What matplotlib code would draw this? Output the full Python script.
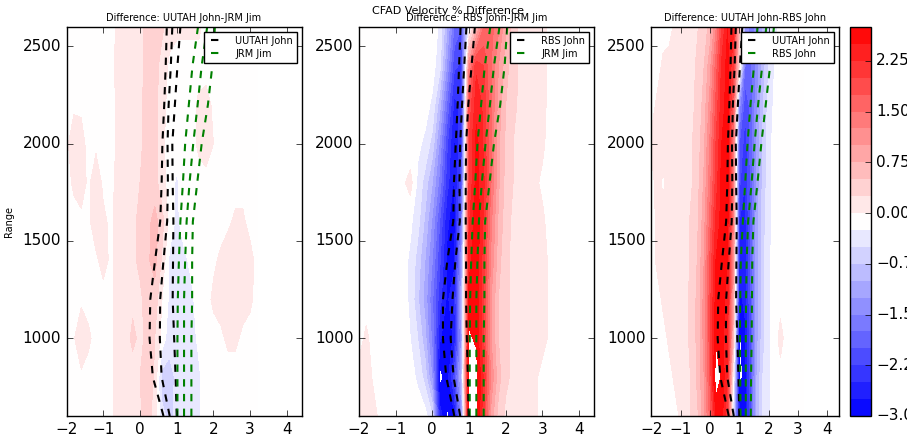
import matplotlib
matplotlib.use('Agg')
import matplotlib.pyplot as plt
import numpy as np

plt.style.use('classic')
plt.rcParams['figure.facecolor'] = 'white'
plt.rcParams['savefig.facecolor'] = 'white'

# range gates (m) and velocity bins used for the CFADs
heights = [600, 800, 1000, 1200, 1400, 1600, 1800, 2000, 2200, 2400, 2600]
vel_bins = [-2.0, -1.8, -1.6, -1.4, -1.2, -1.0, -0.8, -0.6, -0.4, -0.2, 0.0, 0.2, 0.4, 0.6,
            0.8, 1.0, 1.2, 1.4, 1.6, 1.8, 2.0, 2.2, 2.4, 2.6, 2.8, 3.0, 3.2]

# CFAD % differences, one row per height
diff_uutah_jrm = [
    [-0.1, -0.1, -0.1, -0.1, -0.1, -0.1, -0.05, 0.1, 0.15, 0.15, 0.2, 0.4, 0.1, -0.45, -0.55, -0.45, -0.4, -0.35, -0.3, -0.1, -0.1, -0.1, -0.1, -0.1, -0.1, -0.1, -0.1],
    [-0.1, -0.1, -0.05, -0.1, -0.1, -0.1, -0.05, 0.1, 0.15, 0.15, 0.25, 0.5, 0.2, -0.6, -0.6, -0.45, -0.4, -0.35, -0.3, -0.1, -0.1, -0.1, -0.1, -0.1, -0.1, -0.1, -0.1],
    [-0.1, -0.02, 0.2, 0.05, -0.1, -0.1, -0.05, 0.1, 0.15, 0.3, 0.2, 0.3, 0.25, -0.1, -0.4, -0.45, -0.5, -0.35, -0.2, -0.1, -0.1, -0.05, 0.05, 0.05, -0.05, -0.1, -0.1],
    [-0.1, -0.1, -0.05, -0.1, -0.1, -0.1, -0.05, 0.1, 0.15, 0.2, 0.2, 0.35, 0.4, 0.0, -0.3, -0.4, -0.35, -0.3, -0.15, -0.1, 0.05, 0.1, 0.1, 0.1, 0.1, 0.05, -0.1],
    [-0.1, -0.1, -0.1, -0.1, -0.05, 0.1, -0.05, 0.1, 0.15, 0.2, 0.3, 0.45, 0.6, 0.2, -0.3, -0.35, -0.3, -0.2, -0.1, -0.1, -0.05, 0.05, 0.15, 0.15, 0.15, 0.1, -0.1],
    [-0.1, -0.1, -0.05, -0.05, 0.15, 0.05, -0.05, 0.1, 0.15, 0.2, 0.3, 0.4, 0.6, 0.35, -0.1, -0.3, -0.15, -0.1, -0.1, -0.1, -0.1, -0.1, -0.05, 0.05, 0.05, -0.1, -0.1],
    [-0.1, 0.05, 0.1, -0.05, 0.15, -0.05, -0.1, 0.1, 0.15, 0.15, 0.25, 0.35, 0.35, 0.1, -0.1, -0.3, -0.1, -0.1, -0.1, -0.1, -0.1, -0.1, -0.1, -0.1, -0.1, -0.1, -0.1],
    [-0.05, 0.15, 0.1, -0.1, -0.05, -0.1, -0.1, 0.05, 0.15, 0.15, 0.2, 0.35, 0.35, 0.05, -0.1, -0.1, -0.1, -0.1, 0.05, 0.15, 0.0, -0.1, -0.1, -0.1, -0.1, -0.1, -0.1],
    [-0.1, -0.05, -0.05, -0.1, -0.1, -0.1, -0.1, 0.05, 0.15, 0.15, 0.2, 0.35, 0.35, 0.1, -0.1, -0.1, -0.1, -0.1, 0.05, 0.1, -0.05, -0.1, -0.1, -0.1, -0.1, -0.1, -0.1],
    [-0.1, -0.1, -0.1, -0.1, -0.1, -0.1, -0.1, 0.1, 0.15, 0.15, 0.2, 0.3, 0.35, 0.15, -0.05, -0.1, -0.1, -0.1, -0.1, -0.1, -0.1, -0.1, -0.1, -0.1, -0.1, -0.1, -0.1],
    [-0.1, -0.1, -0.1, -0.1, -0.1, -0.1, -0.1, 0.05, 0.15, 0.15, 0.2, 0.3, 0.35, 0.3, 0.1, 0.05, 0.05, 0.05, 0.05, -0.1, -0.1, -0.1, -0.1, -0.1, -0.1, -0.1, -0.1],
]

diff_rbs_jrm = [
    [0.15, 0.2, 0.1, -0.1, -0.1, -0.1, -0.1, -0.1, -0.1, -0.15, -0.5, -2.6, -3.05, -2.8, -1.4, 2.95, 2.9, 2.0, 0.9, 0.4, 0.2, 0.15, 0.15, 0.15, 0.05, -0.1, -0.1],
    [0.1, 0.15, -0.05, -0.1, -0.1, -0.1, -0.1, -0.15, -0.3, -0.6, -1.3, -3.1, -2.9, -2.2, -0.9, 3.0, 2.9, 2.2, 1.2, 0.6, 0.3, 0.2, 0.15, 0.15, 0.05, -0.1, -0.1],
    [-0.1, 0.05, -0.1, -0.1, -0.1, -0.1, -0.15, -0.25, -0.5, -0.9, -1.6, -2.7, -2.95, -2.7, -1.2, 2.8, 2.7, 2.0, 1.0, 0.5, 0.3, 0.2, 0.15, 0.15, 0.15, 0.1, -0.05],
    [-0.1, -0.1, -0.1, -0.1, -0.1, -0.1, -0.15, -0.3, -0.7, -1.1, -1.7, -2.4, -2.8, -2.6, -1.0, 2.6, 2.7, 2.0, 1.0, 0.5, 0.3, 0.2, 0.15, 0.15, 0.15, 0.1, -0.05],
    [-0.1, -0.1, -0.1, -0.1, -0.1, -0.1, -0.15, -0.3, -0.6, -1.0, -1.5, -2.2, -2.8, -2.8, -1.3, 2.4, 2.7, 2.1, 1.2, 0.6, 0.3, 0.2, 0.15, 0.15, 0.1, 0.1, -0.05],
    [-0.1, -0.1, -0.1, -0.1, -0.1, -0.1, -0.1, -0.2, -0.4, -0.8, -1.3, -2.0, -2.7, -2.9, -1.6, 2.2, 2.7, 2.2, 1.3, 0.7, 0.35, 0.2, 0.15, 0.15, 0.1, 0.05, -0.1],
    [-0.1, -0.1, -0.1, -0.1, -0.1, -0.1, -0.05, 0.1, -0.3, -0.6, -1.0, -1.6, -2.4, -2.8, -2.0, 2.0, 2.6, 2.3, 1.5, 0.8, 0.4, 0.25, 0.15, 0.1, 0.05, -0.05, -0.1],
    [-0.1, -0.1, -0.1, -0.1, -0.1, -0.1, -0.1, -0.2, -0.2, -0.3, -0.6, -1.3, -2.2, -2.8, -2.3, 2.0, 2.6, 2.2, 1.5, 0.8, 0.45, 0.25, 0.2, 0.15, 0.1, 0.05, -0.1],
    [-0.1, -0.1, -0.1, -0.1, -0.1, -0.1, -0.1, -0.1, -0.1, -0.15, -0.3, -0.9, -1.8, -2.6, -2.4, 1.8, 2.4, 2.2, 1.5, 0.9, 0.5, 0.3, 0.2, 0.15, 0.1, 0.1, -0.1],
    [-0.1, -0.1, -0.1, -0.1, -0.1, -0.1, -0.1, -0.1, -0.1, -0.1, -0.15, -0.4, -1.3, -2.2, -2.3, 1.2, 2.2, 2.0, 1.5, 1.0, 0.6, 0.35, 0.2, 0.15, 0.15, 0.1, -0.1],
    [-0.1, -0.1, -0.1, -0.1, -0.1, -0.1, -0.1, -0.1, -0.1, -0.1, -0.1, -0.3, -1.0, -1.8, -2.0, -0.2, 0.6, 1.5, 1.6, 1.3, 0.8, 0.35, 0.2, 0.15, 0.15, 0.1, -0.1],
]

diff_uutah_rbs = [
    [-0.1, -0.1, -0.1, -0.1, -0.1, 0.05, 0.15, 0.3, 0.5, 0.9, 1.6, 2.5, 2.6, 2.0, -0.6, -2.8, -2.9, -2.0, -1.0, -0.5, -0.3, -0.15, -0.1, -0.1, -0.1, -0.1, -0.1],
    [-0.1, -0.1, -0.1, -0.1, 0.05, 0.1, 0.15, 0.3, 0.6, 1.0, 1.8, 3.0, 2.7, 2.2, -0.2, -3.1, -2.9, -2.0, -1.0, -0.5, -0.3, -0.15, -0.1, -0.1, -0.1, -0.1, -0.1],
    [-0.1, -0.1, -0.1, 0.05, 0.1, 0.15, 0.2, 0.35, 0.6, 1.1, 1.9, 2.7, 2.6, 2.3, 0.5, -3.1, -2.8, -2.0, -1.1, -0.6, -0.3, -0.15, 0.1, -0.1, -0.1, -0.1, -0.1],
    [-0.1, -0.1, 0.05, 0.1, 0.15, 0.15, 0.2, 0.35, 0.6, 1.1, 1.9, 2.6, 2.6, 2.4, 0.8, -2.8, -2.7, -2.0, -1.1, -0.6, -0.3, -0.15, -0.1, -0.1, -0.1, -0.1, -0.1],
    [-0.1, 0.05, 0.1, 0.1, 0.15, 0.15, 0.2, 0.3, 0.55, 1.0, 1.8, 2.5, 2.6, 2.5, 1.0, -2.7, -2.6, -1.9, -1.1, -0.6, -0.3, -0.15, -0.1, -0.1, -0.1, -0.1, -0.1],
    [-0.1, 0.05, 0.1, 0.15, 0.15, 0.15, 0.2, 0.3, 0.5, 0.9, 1.6, 2.3, 2.6, 2.6, 1.2, -2.5, -2.6, -1.9, -1.1, -0.6, -0.35, -0.15, -0.1, -0.1, -0.1, -0.1, -0.1],
    [-0.1, 0.1, -0.05, 0.1, 0.15, 0.15, 0.15, 0.25, 0.45, 0.8, 1.4, 2.1, 2.6, 2.6, 1.3, -2.2, -2.5, -1.9, -1.2, -0.7, -0.35, -0.15, -0.1, -0.1, -0.1, -0.1, -0.1],
    [0.05, 0.1, 0.15, 0.15, 0.15, 0.15, 0.15, 0.25, 0.4, 0.7, 1.3, 2.0, 2.5, 2.6, 1.3, -2.0, -2.4, -1.9, -1.2, -0.7, -0.35, -0.15, -0.1, -0.1, -0.1, -0.1, -0.1],
    [-0.1, 0.05, 0.1, 0.15, 0.15, 0.15, 0.15, 0.2, 0.35, 0.6, 1.1, 1.8, 2.4, 2.6, 1.6, -1.4, -2.2, -1.9, -1.3, -0.8, -0.4, -0.2, -0.1, -0.1, -0.1, -0.1, -0.1],
    [-0.1, -0.1, 0.05, 0.1, 0.1, 0.15, 0.15, 0.2, 0.3, 0.5, 0.9, 1.6, 2.3, 2.6, 2.0, 0.2, -1.8, -1.8, -1.4, -0.9, -0.5, -0.25, -0.1, -0.1, -0.1, -0.1, -0.1],
    [-0.1, -0.1, -0.1, -0.1, 0.05, 0.1, 0.1, 0.15, 0.25, 0.35, 0.6, 1.2, 2.0, 2.5, 2.3, 0.5, -1.3, -1.6, -1.4, -1.0, -0.6, -0.3, -0.2, -0.1, -0.1, -0.1, -0.1],
]

# velocity percentiles (three lines per radar) at each height
uutah_john = [
    [0.64, 0.35, 0.26, 0.28, 0.41, 0.55, 0.59, 0.61, 0.66, 0.70, 0.73],
    [0.81, 0.59, 0.54, 0.55, 0.64, 0.74, 0.76, 0.75, 0.78, 0.84, 0.88],
    [1.00, 0.97, 0.93, 0.89, 0.90, 0.91, 0.89, 0.88, 0.95, 1.02, 1.10],
]
jrm_jim = [
    [1.02, 1.02, 1.02, 1.03, 1.06, 1.10, 1.17, 1.23, 1.33, 1.43, 1.58],
    [1.20, 1.20, 1.20, 1.20, 1.23, 1.27, 1.35, 1.45, 1.57, 1.68, 1.83],
    [1.40, 1.40, 1.40, 1.42, 1.42, 1.44, 1.56, 1.68, 1.85, 1.97, 2.04],
]
rbs_john = [
    [0.60, 0.38, 0.29, 0.29, 0.41, 0.57, 0.59, 0.64, 0.69, 0.73, 0.77],
    [0.76, 0.58, 0.50, 0.55, 0.63, 0.75, 0.74, 0.76, 0.81, 0.87, 0.93],
    [0.99, 0.97, 0.94, 0.92, 0.92, 0.91, 0.91, 0.92, 0.98, 1.07, 1.16],
]
rbs_john_2 = [
    [1.04, 1.03, 1.02, 1.03, 1.05, 1.12, 1.20, 1.28, 1.38, 1.50, 1.62],
    [1.22, 1.22, 1.22, 1.23, 1.25, 1.30, 1.42, 1.52, 1.64, 1.78, 1.92],
    [1.39, 1.40, 1.42, 1.43, 1.44, 1.48, 1.62, 1.75, 1.90, 2.05, 2.18],
]

panels = [
    ('Difference: UUTAH John-JRM Jim', diff_uutah_jrm, 'UUTAH John', uutah_john, 'JRM Jim', jrm_jim),
    ('Difference: RBS John-JRM Jim', diff_rbs_jrm, 'RBS John', rbs_john, 'JRM Jim', jrm_jim),
    ('Difference: UUTAH John-RBS John', diff_uutah_rbs, 'UUTAH John', uutah_john, 'RBS John', rbs_john_2),
]

levels = np.arange(-3.0, 3.0, 0.25)

W, H = 907.0, 438.0
fig = plt.figure(figsize=(W / 100, H / 100), dpi=100)
bot = 22 / H
hgt = 389 / H
axes = [fig.add_axes([66.6 / W, bot, 234.9 / W, hgt]),
        fig.add_axes([358.9 / W, bot, 234.9 / W, hgt]),
        fig.add_axes([651.4 / W, bot, 187.6 / W, hgt])]
cax = fig.add_axes([850.0 / W, bot, 20.7 / W, hgt])

for ax, (title, diff, lab1, pct1, lab2, pct2) in zip(axes, panels):
    cf = ax.contourf(vel_bins, heights, np.array(diff), levels=levels, cmap='bwr')
    for i, p in enumerate(pct1):
        ax.plot(p, heights, color='k', lw=1.5, ls='--', dashes=(5.3, 5.3),
                label=lab1 if i == 0 else None)
    for i, p in enumerate(pct2):
        ax.plot(p, heights, color='g', lw=1.5, ls='--', dashes=(5.3, 5.3),
                label=lab2 if i == 0 else None)
    ax.set_xlim(-2, 4.4)
    ax.set_ylim(600, 2600)
    ax.set_xticks([-2, -1, 0, 1, 2, 3, 4])
    ax.set_yticks([1000, 1500, 2000, 2500])
    ax.tick_params(labelsize=11)
    ax.set_title(title, fontsize=7, pad=4)
    ax.legend(loc='upper right', fontsize=7, labelspacing=0.3)

axes[0].set_ylabel('Range', fontsize=7)
axes[0].yaxis.set_label_coords(-0.224, 0.5)

cb = fig.colorbar(cf, cax=cax, ticks=[-3.0, -2.25, -1.5, -0.75, 0.0, 0.75, 1.5, 2.25])
cb.ax.tick_params(labelsize=11)

fig.suptitle('CFAD Velocity % Difference', fontsize=8, x=0.494, y=0.986)

fig.savefig('out.png', dpi=100)
